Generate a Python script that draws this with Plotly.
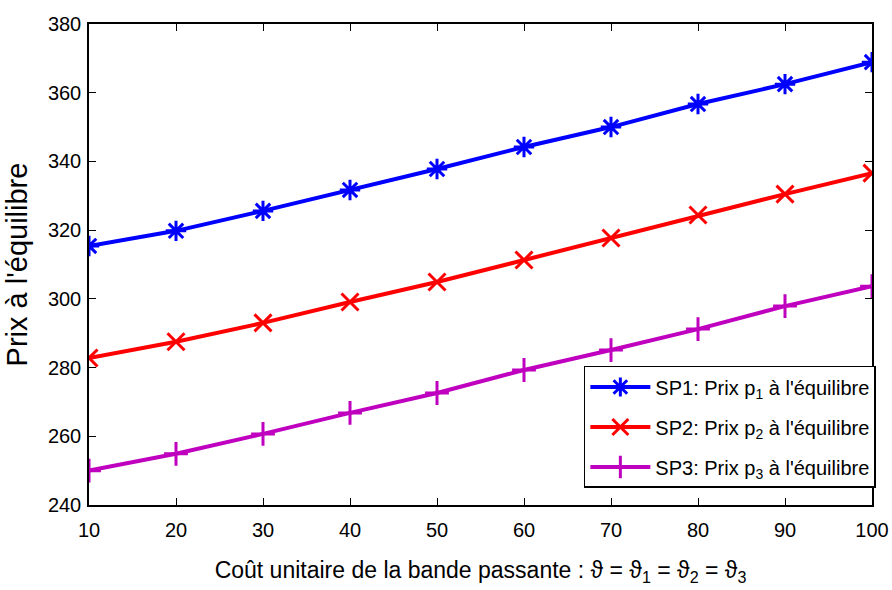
import plotly.graph_objects as go

cost = [10, 20, 30, 40, 50, 60, 70, 80, 90, 100]
sp1 = [315.4, 319.8, 325.6, 331.7, 337.8, 344.2, 350.0, 356.7, 362.5, 368.9]
sp2 = [282.8, 287.5, 293.0, 299.1, 304.9, 311.3, 317.7, 324.4, 330.5, 336.6]
sp3 = [250.0, 254.9, 260.7, 266.8, 272.6, 279.3, 285.1, 291.2, 297.9, 303.7]
y_ticks = [240, 260, 280, 300, 320, 340, 360, 380]

names = ["SP1: Prix p<sub>1</sub> à l'équilibre",
         "SP2: Prix p<sub>2</sub> à l'équilibre",
         "SP3: Prix p<sub>3</sub> à l'équilibre"]
colors = ["#0000ff", "#ff0000", "#bf00bf"]
symbols = ["asterisk-open", "x-thin-open", "cross-thin-open"]

sans = "Liberation Sans, Arial, sans-serif"

fig = go.Figure()
for i, (ys, nm, c, s) in enumerate(zip([sp1, sp2, sp3], names, colors, symbols)):
    fig.add_trace(go.Scatter(
        x=cost, y=ys, name=nm, mode="lines+markers", legendgroup=f"g{i}",
        line=dict(color=c, width=4),
        marker=dict(symbol=s, size=17, color=c, line=dict(color=c, width=3)),
    ))

axis_common = dict(
    showline=True, linecolor="black", linewidth=1.5, mirror="ticks",
    ticks="inside", ticklen=7, tickwidth=1, tickcolor="black",
    showgrid=False, zeroline=False, ticklabeloverflow="allow", automargin=False,
    tickfont=dict(family=sans, size=20, color="black"),
)

fig.update_layout(
    width=892, height=590,
    margin=dict(l=89, r=20, t=24, b=85),
    paper_bgcolor="white", plot_bgcolor="white",
    xaxis=dict(range=[10, 100], tickvals=cost, ticklabelstandoff=6, **axis_common,
               title=dict(text="Coût unitaire de la bande passante : ϑ = ϑ<sub>1</sub> = ϑ<sub>2</sub> = ϑ<sub>3</sub>",
                          font=dict(family=sans, size=23, color="black"), standoff=22)),
    yaxis=dict(range=[240, 380], tickvals=y_ticks, ticklabelstandoff=2, **axis_common,
               title=dict(text="Prix à l'équilibre",
                          font=dict(family=sans, size=29, color="black"), standoff=12)),
    legend=dict(x=0.632, y=0.289, xanchor="left", yanchor="top",
                bgcolor="white", bordercolor="black", borderwidth=1.5,
                font=dict(family=sans, size=20, color="black"),
                itemwidth=60, tracegroupgap=11),
    showlegend=True,
)

fig.write_html("out.html")
